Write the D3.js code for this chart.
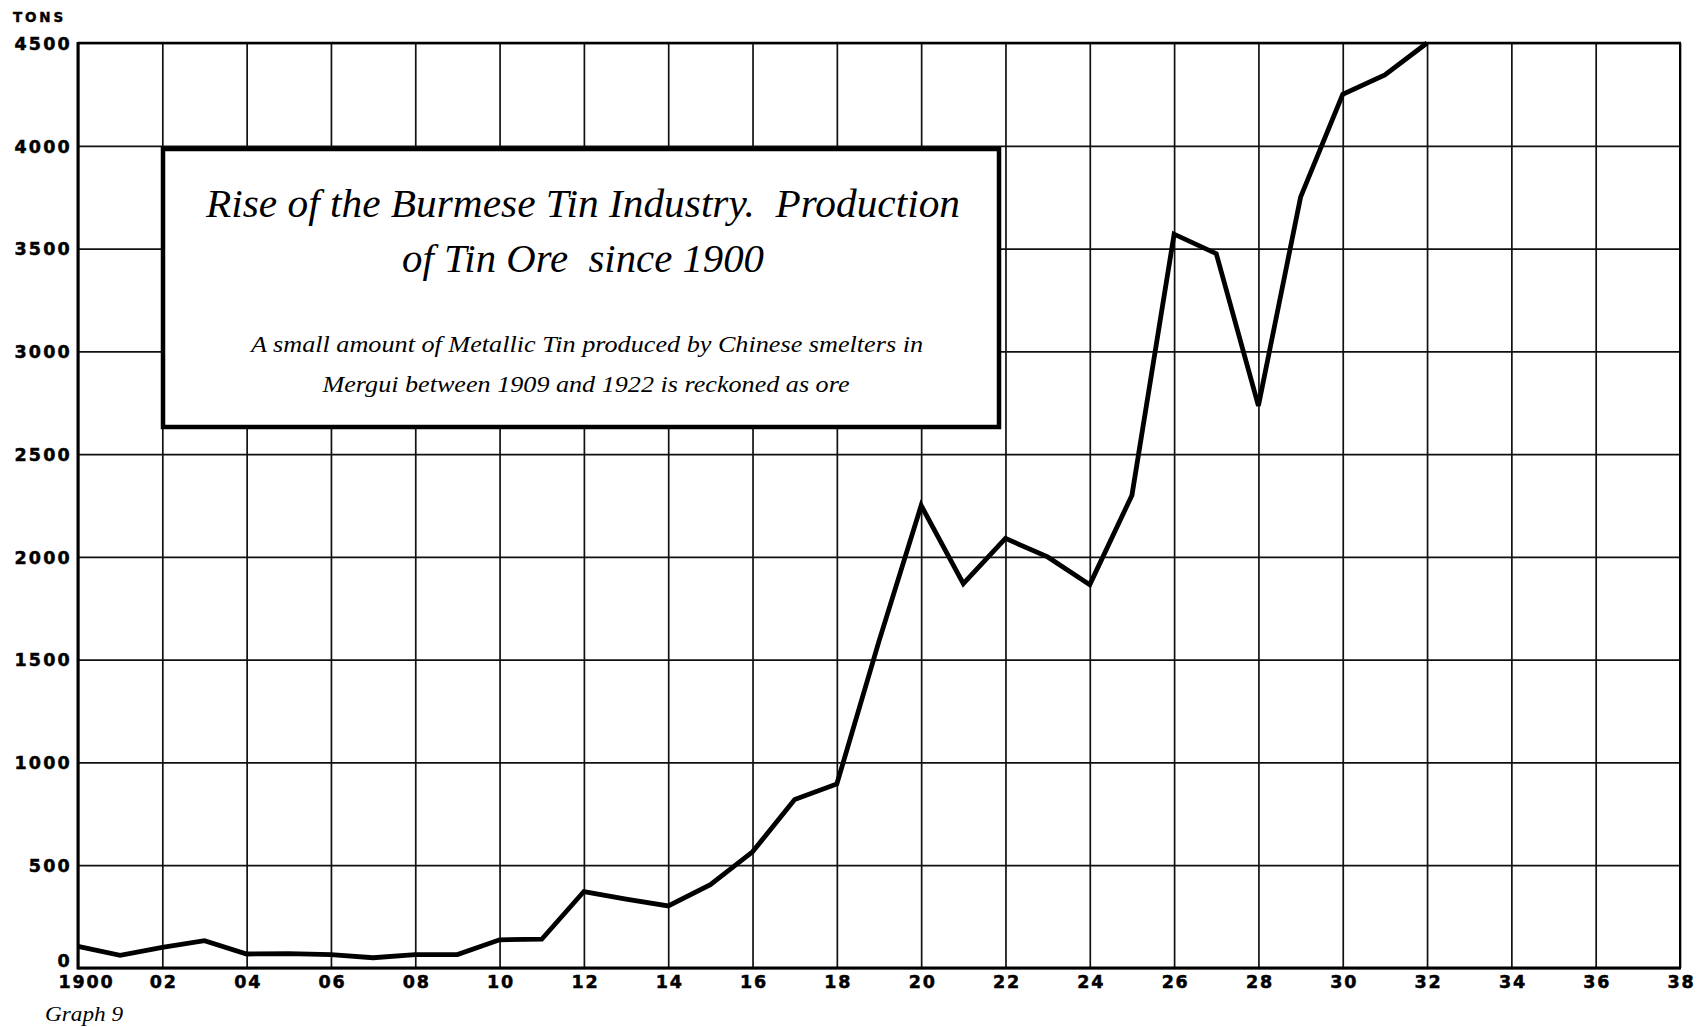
<!DOCTYPE html>
<html>
<head>
<meta charset="utf-8">
<script src="https://cdn.jsdelivr.net/npm/d3@7"></script>
<style>
  html, body { margin: 0; padding: 0; background: #fff; }
  svg { display: block; }
  text { white-space: pre; }
</style>
</head>
<body>
<svg id="chart" width="1699" height="1027"></svg>
<script>
// ---- data ----
const years = [1900,1901,1902,1903,1904,1905,1906,1907,1908,1909,1910,1911,1912,1913,1914,1915,1916,1917,1918,1919,1920,1921,1922,1923,1924,1925,1926,1927,1928,1929,1930,1931,1932];
const tons  = [105,62,100,133,68,70,65,50,65,65,137,140,372,335,302,405,565,820,895,1590,2250,1870,2090,2000,1865,2300,3570,3475,2735,3750,4250,4345,4500];
const xTickYears  = [1900,1902,1904,1906,1908,1910,1912,1914,1916,1918,1920,1922,1924,1926,1928,1930,1932,1934,1936,1938];
const xTickLabels = ["1900","02","04","06","08","10","12","14","16","18","20","22","24","26","28","30","32","34","36","38"];
const yTickValues = [0,500,1000,1500,2000,2500,3000,3500,4000,4500];
const yTickLabels = ["0","500","1000","1500","2000","2500","3000","3500","4000","4500"];
const unitLabel = "TONS";
const titleLines = ["Rise of the Burmese Tin Industry.  Production", "of Tin Ore  since 1900"];
const noteLines = ["A small amount of Metallic Tin produced by Chinese smelters in", "Mergui between 1909 and 1922 is reckoned as ore"];
const captionText = "Graph 9";

// ---- layout ----
const svg = d3.select("#chart");
const L = 78, R = 1680, T = 43, B = 968;
const x = d3.scaleLinear().domain([1900, 1938]).range([L, R]);
const y = d3.scaleLinear().domain([0, 4500]).range([B, T]);

const numFont = "'DejaVu Sans', Verdana, sans-serif";
const serif = "'Liberation Serif', 'DejaVu Serif', serif";

// vertical grid
const gx = svg.append("g").attr("transform", `translate(0,${B})`)
  .call(d3.axisBottom(x).tickValues(xTickYears).tickSize(-(B - T)).tickFormat((d, i) => xTickLabels[i]).tickPadding(0));
gx.select(".domain").remove();
gx.selectAll(".tick line").attr("stroke", "#111").attr("stroke-width", 1.7);
gx.selectAll(".tick text")
  .attr("y", 20).attr("dy", 0)
  .attr("font-family", numFont).attr("font-weight", "bold").attr("font-size", 17.5)
  .attr("letter-spacing", 1.8).attr("fill", "#000")
  .attr("stroke", "#000").attr("stroke-width", 0.5)
  .attr("dx", (d) => d === 1900 ? 8 : 1);

// horizontal grid
const gy = svg.append("g").attr("transform", `translate(${L},0)`)
  .call(d3.axisLeft(y).tickValues(yTickValues).tickSize(-(R - L)).tickFormat((d, i) => yTickLabels[i]).tickPadding(0));
gy.select(".domain").remove();
gy.selectAll(".tick line").attr("stroke", "#111").attr("stroke-width", 1.7);
gy.selectAll(".tick text")
  .attr("x", -6).attr("dy", (d) => d === 0 ? "-0.1em" : "0.36em")
  .attr("font-family", numFont).attr("font-weight", "bold").attr("font-size", 17.5)
  .attr("letter-spacing", 2.2).attr("fill", "#000")
  .attr("stroke", "#000").attr("stroke-width", 0.5);

// frame
svg.append("line").attr("x1", L).attr("x2", L).attr("y1", T - 1).attr("y2", B + 1.5).attr("stroke", "#000").attr("stroke-width", 3);
svg.append("line").attr("x1", L).attr("x2", R + 1).attr("y1", B).attr("y2", B).attr("stroke", "#000").attr("stroke-width", 3);
svg.append("line").attr("x1", L).attr("x2", R + 1).attr("y1", T).attr("y2", T).attr("stroke", "#000").attr("stroke-width", 2.5);
svg.append("line").attr("x1", R).attr("x2", R).attr("y1", T).attr("y2", B).attr("stroke", "#000").attr("stroke-width", 2);

// unit label
svg.append("text").attr("x", 13).attr("y", 22).text(unitLabel)
  .attr("font-family", numFont).attr("font-weight", "bold").attr("font-size", 13.5)
  .attr("letter-spacing", 2.8).attr("fill", "#000")
  .attr("stroke", "#000").attr("stroke-width", 0.4);

// data line
const line = d3.line().x((d, i) => x(years[i])).y((d) => y(d));
svg.append("path").datum(tons).attr("d", line)
  .attr("fill", "none").attr("stroke", "#000").attr("stroke-width", 4.8)
  .attr("stroke-linejoin", "miter").attr("stroke-linecap", "butt");

// title box
const bx0 = 163, by0 = 149, bx1 = 999, by1 = 427;
svg.append("rect").attr("x", bx0).attr("y", by0).attr("width", bx1 - bx0).attr("height", by1 - by0)
  .attr("fill", "#fff").attr("stroke", "#000").attr("stroke-width", 4.5);

const cx = 583;
svg.append("text").attr("x", cx).attr("y", 217).attr("text-anchor", "middle")
  .attr("font-family", serif).attr("font-style", "italic").attr("font-size", 40).attr("fill", "#000")
  .attr("textLength", 754).attr("lengthAdjust", "spacingAndGlyphs").text(titleLines[0]);
svg.append("text").attr("x", cx).attr("y", 272).attr("text-anchor", "middle")
  .attr("font-family", serif).attr("font-style", "italic").attr("font-size", 40).attr("fill", "#000")
  .attr("textLength", 362).attr("lengthAdjust", "spacingAndGlyphs").text(titleLines[1]);
svg.append("text").attr("x", 587).attr("y", 352).attr("text-anchor", "middle")
  .attr("font-family", serif).attr("font-style", "italic").attr("font-size", 24).attr("fill", "#000")
  .attr("textLength", 672).attr("lengthAdjust", "spacingAndGlyphs").text(noteLines[0]);
svg.append("text").attr("x", 586).attr("y", 392).attr("text-anchor", "middle")
  .attr("font-family", serif).attr("font-style", "italic").attr("font-size", 24).attr("fill", "#000")
  .attr("textLength", 527).attr("lengthAdjust", "spacingAndGlyphs").text(noteLines[1]);

// caption
svg.append("text").attr("x", 45).attr("y", 1021)
  .attr("font-family", serif).attr("font-style", "italic").attr("font-size", 20).attr("fill", "#000")
  .attr("textLength", 78).attr("lengthAdjust", "spacingAndGlyphs").text(captionText);
</script>
</body>
</html>
